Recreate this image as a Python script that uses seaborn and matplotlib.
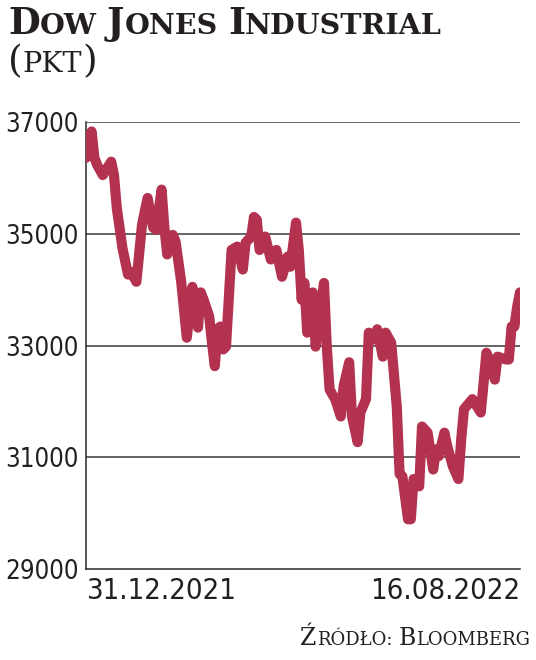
import matplotlib
matplotlib.use("Agg")
import matplotlib.pyplot as plt
import seaborn as sns
import pandas as pd

# ---- data ----
days = [0, 2, 3, 4, 6, 9, 10, 11, 13, 15, 16, 18, 20, 22, 24, 25, 27, 28, 29, 31,
        32, 34, 36, 38, 40, 41, 42, 44, 45, 46, 47, 48, 49, 50, 52, 54, 56, 57, 59, 60,
        61, 62, 64, 66, 68, 70, 72, 73, 75, 76, 77, 78, 79, 81, 82, 83, 85, 86, 87, 89,
        91, 92, 94, 95, 97, 98, 100, 101, 103, 104, 106, 107, 109, 111, 112, 113, 115, 116, 117, 119,
        120, 122, 124, 125, 126, 128, 129, 131, 133, 134, 135, 138, 141, 143, 144, 146, 147, 150, 151, 152,
        153, 154, 155]
dow = [36360, 36830, 36360, 36230, 36050, 36290, 36050, 35460, 34750, 34270, 34320, 34140, 35160, 35640, 35110, 35070, 35790, 35110, 34630, 34980,
       34860, 34140, 33140, 34050, 33320, 33950, 33820, 33520, 33050, 32630, 33290, 33340, 32930, 32980, 34710, 34770, 34360, 34840, 34950, 35300,
       35250, 34710, 34950, 34540, 34710, 34230, 34590, 34410, 35200, 34710, 33820, 34120, 33230, 33950, 32980, 33340, 34120, 32980, 32210, 32040,
       31730, 32270, 32700, 31730, 31270, 31800, 32040, 33230, 33110, 33290, 32800, 33230, 33050, 31900, 30700, 30660, 29890, 29890, 30610, 30480,
       31550, 31440, 30780, 31140, 31020, 31440, 31200, 30840, 30610, 31320, 31860, 32040, 31800, 32870, 32750, 32390, 32800, 32750, 32750, 33340,
       33340, 33700, 33950]
y_ticks = [29000, 31000, 33000, 35000, 37000]
x_tick_days = [0, 155]
x_tick_labels = ["31.12.2021", "16.08.2022"]

title_parts = [("D", 1), ("OW", 0), (" ", 0), ("J", 1), ("ONES", 0), (" ", 0), ("I", 1), ("NDUSTRIAL", 0)]
unit_parts = [("(", 1), ("PKT", 0), (")", 1)]
source_parts = [("Ź", 1), ("RÓDŁO:", 0), (" ", 0), ("B", 1), ("LOOMBERG", 0)]

df = pd.DataFrame({"day": days, "value": dow})

sns.set_theme(style="white")
plt.rcParams["font.family"] = ["DejaVu Sans"]

INK = "#231f20"
LINE = "#b3324f"

fig = plt.figure(figsize=(5.36, 6.60), dpi=100)
ax = fig.add_axes([86 / 536, 1 - 569 / 660, (520 - 86) / 536, (569 - 122) / 660])

sns.lineplot(data=df, x="day", y="value", ax=ax, color=LINE, linewidth=7.3,
             solid_joinstyle="round", solid_capstyle="round", zorder=3)

ax.set_xlim(0, 155)
ax.set_ylim(29000, 37000)
ax.set_yticks(y_ticks)
ax.set_yticklabels([str(v) for v in y_ticks], fontsize=18.5, color=INK,
                   fontstretch="condensed", family="DejaVu Sans")
ax.set_xticks(x_tick_days)
ax.set_xticklabels(x_tick_labels, fontsize=21, color=INK,
                   fontstretch="condensed", family="DejaVu Sans")
xl = ax.get_xticklabels()
xl[0].set_ha("left")
xl[1].set_ha("right")
ax.tick_params(axis="both", length=0)
ax.tick_params(axis="y", pad=5)
ax.tick_params(axis="x", pad=6)
ax.set_xlabel("")
ax.set_ylabel("")

for v in y_ticks[1:]:
    ax.axhline(v, color="#3a3a3a", linewidth=1.1, zorder=1)
for s in ["top", "right"]:
    ax.spines[s].set_visible(False)
ax.spines["left"].set_color("#2a2a2a")
ax.spines["left"].set_linewidth(1.1)
ax.spines["bottom"].set_color("#2a2a2a")
ax.spines["bottom"].set_linewidth(1.1)
ax.grid(False)

renderer = fig.canvas.get_renderer()
W = fig.bbox.width


def small_caps(parts, x, y, big, small, weight, family, align="left"):
    arts = []
    cx = x
    for txt, isbig in parts:
        t = fig.text(cx, y, txt, fontsize=big if isbig else small, fontweight=weight,
                     family=family, color=INK, va="baseline", ha="left")
        arts.append(t)
        bb = t.get_window_extent(renderer)
        if txt == " ":
            cx += (big * 0.28 * 100 / 72) / W
            t.set_text("")
        else:
            cx = bb.x1 / W
    if align == "right":
        shift = x - cx
        for t in arts:
            t.set_x(t.get_position()[0] + shift)
    return arts


serif = ["DejaVu Serif"]
small_caps(title_parts, 8 / 536, 1 - 34 / 660, 26.5, 20.5, "heavy", serif)
small_caps(unit_parts, 8 / 536, 1 - 72 / 660, 27, 20.5, "normal", serif)
small_caps(source_parts, 530 / 536, 1 - 645 / 660, 17, 13, "normal", serif, align="right")

fig.savefig("out.png", dpi=100)
